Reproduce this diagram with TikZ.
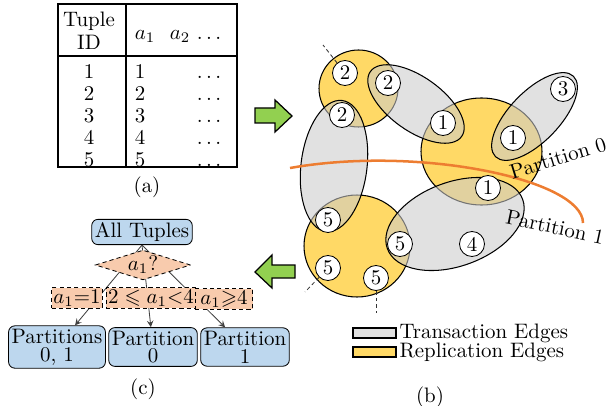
\documentclass[tikz,border=0pt]{standalone}
\usepackage{amsmath}
\usepackage{amssymb}
\usepackage{xcolor}
\definecolor{repYellow}{HTML}{FFD966}
\definecolor{txGray}{HTML}{CBCBCB}
\definecolor{partOrange}{HTML}{ED7D31}
\definecolor{treeBlue}{HTML}{BDD7EE}
\definecolor{treePeach}{HTML}{F8CBAD}
\definecolor{arrowGreen}{HTML}{92D050}
\usepackage{tikz}
\usetikzlibrary{shapes.geometric}

\tikzset{
  cell/.style={inner sep=0pt, text height=6.5pt, text depth=0pt},
  tuple/.style={circle, draw, fill=white, inner sep=0pt, minimum size=0.42cm},
  repedge/.style={draw, fill=repYellow, line width=0.5pt},
  txedge/.style={draw, fill=txGray, fill opacity=0.57, line width=0.5pt},
  stub/.style={black!80, line width=0.4pt, dash pattern=on 1.8pt off 1.4pt},
  leafbox/.style={draw, rounded corners=3pt, fill=treeBlue, align=center, inner sep=1.5pt},
  testbox/.style={draw, dash pattern=on 2pt off 1.5pt, fill=treePeach, inner sep=1pt},
  blockarrow/.style={draw, fill=arrowGreen, line width=0.6pt, line join=miter}
}

\begin{document}
\begin{tikzpicture}[x=0.0168cm, y=-0.0168cm, >=stealth]
  \useasboundingbox (0,0) rectangle (609,406);

  % ---------------- (a) the tuple table ----------------
  \draw[line width=0.8pt] (58,4) rectangle (237,167);
  \draw[line width=0.8pt] (126,4) -- (126,167);
  \draw[line width=0.9pt] (58,56) -- (237,56);
  \node[cell] (hdtuple) at (89,20) {Tuple};
  \node[cell] (hdid)    at (89,43) {ID};
  \node[cell] (hda)     at (145,33) {$a_1$};
  \node[cell] (hdb)     at (180,33) {$a_2$};
  \node[cell] (hddots)  at (209,33) {$\ldots$};
  \foreach \i/\y in {1/72,2/94,3/116,4/138,5/160} {
    \node[cell] (id\i) at (89,\y)  {\i};
    \node[cell] (av\i) at (140,\y) {\i};
    \node[cell] (dt\i) at (209,\y) {$\ldots$};
  }
  \node (capa) at (147,187) {(a)};

  % ---------------- the two green arrows ----------------
  \draw[blockarrow] (255,108) -- (275,108) -- (275,100) -- (292,116)
    -- (275,132) -- (275,123) -- (255,123) -- cycle;
  \draw[blockarrow] (295,265) -- (272,265) -- (272,255) -- (255,272)
    -- (272,288) -- (272,278) -- (295,278) -- cycle;

  % ---------------- (b) replication edges ----------------
  \path[repedge] (358.5,88.5) ellipse [x radius=39.5, y radius=38.5];
  \path[repedge] (481.5,151.5) ellipse [x radius=60.5, y radius=53.5];
  \path[repedge] (357,246) ellipse [x radius=53, y radius=51];

  % ---------------- (b) transaction edges ----------------
  \path[txedge, rotate around={-35.5:(416,104)}] (416,104) ellipse [x radius=56, y radius=27];
  \path[txedge, rotate around={46:(534.5,116.5)}] (534.5,116.5) ellipse [x radius=56, y radius=25];
  \path[txedge, rotate around={83:(334,166)}] (334,166) ellipse [x radius=66, y radius=33];
  \path[txedge, rotate around={20:(455,224)}] (455,224) ellipse [x radius=72, y radius=42];

  % the partition boundary
  \draw[partOrange, line width=1.2pt] (290,168) .. controls (420,145) and (583,180) .. (583,223);

  % ---------------- (b) tuples ----------------
  \node[tuple] (t2a) at (345,73)  {2};
  \node[tuple] (t2b) at (388,83)  {2};
  \node[tuple] (t2c) at (342,115) {2};
  \node[tuple] (t1a) at (443,123) {1};
  \node[tuple] (t1b) at (513,138) {1};
  \node[tuple] (t1c) at (488,188) {1};
  \node[tuple] (t3)  at (563,89)  {3};
  \node[tuple] (t5a) at (328,220) {5};
  \node[tuple] (t5b) at (400,244) {5};
  \node[tuple] (t4)  at (472,244) {4};
  \node[tuple] (t5c) at (328,268) {5};
  \node[tuple] (t5d) at (376,278) {5};

  \coordinate (out2a) at (323,45);
  \coordinate (out5c) at (305,292);
  \coordinate (out5d) at (376,313);
  \draw[stub] (t2a) -- (out2a);
  \draw[stub] (t5c) -- (out5c);
  \draw[stub] (t5d) -- (out5d);

  \node[rotate=17, inner sep=0pt]  (lbp0) at (558,158) {Partition 0};
  \node[rotate=-12, inner sep=0pt] (lbp1) at (555,227) {Partition 1};

  % legend
  \path[txedge] (353,328) rectangle (396,338);
  \path[repedge] (353,347) rectangle (396,357);
  \node[anchor=west, inner sep=1pt] (lgtx)  at (397,333) {Transaction Edges};
  \node[anchor=west, inner sep=1pt] (lgrep) at (397,352) {Replication Edges};
  \node (capb) at (430,397) {(b)};

  % ---------------- (c) the partitioning tree ----------------
  \node[leafbox] (all) at (142,232) {All Tuples};
  \node[leafbox] (p1) at (57,347)  {Partitions\\[-3.5pt]0, 1};
  \node[leafbox] (p2) at (153,347) {Partition\\[-3.5pt]0};
  \node[leafbox] (p3) at (245,347) {Partition\\[-3.5pt]1};
  \foreach \p in {p1,p2,p3}
    \draw[->, black!75, line width=0.4pt] (all.south) -- (\p);
  \node[testbox, diamond, aspect=3.6, inner sep=0pt, minimum width=1.6cm,
        minimum height=0.5cm] (q) at (143,265) {$a_1?$};
  \node[testbox, inner xsep=0.8pt] (c1) at (77,298)  {$a_1{=}1$};
  \node[testbox] (c2) at (151,298) {$2\leqslant a_1{<}4$};
  \node[testbox, inner xsep=2.5pt] (c3) at (224,299) {$a_1{\geqslant}4$};
  \node (capc) at (143,389) {(c)};
\end{tikzpicture}
\end{document}
